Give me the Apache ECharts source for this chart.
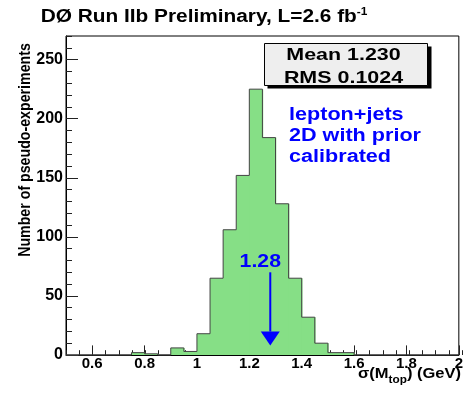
<!DOCTYPE html>
<html>
<head>
<meta charset="utf-8">
<script src="https://cdn.jsdelivr.net/npm/echarts@6/dist/echarts.min.js"></script>
<style>
  html, body { margin: 0; padding: 0; background: #fff; }
  #chart { width: 466px; height: 393px; }
</style>
</head>
<body>
<div id="chart"></div>
<script>
// histogram bins (lower edges), width 0.05
const binLow = [0.50, 0.55, 0.60, 0.65, 0.70, 0.75, 0.80, 0.85, 0.90, 0.95,
                1.00, 1.05, 1.10, 1.15, 1.20, 1.25, 1.30, 1.35, 1.40, 1.45,
                1.50, 1.55, 1.60, 1.65, 1.70, 1.75, 1.80, 1.85, 1.90, 1.95];
const binWidth = 0.05;
const counts = [0, 0, 0, 0, 0, 2, 1, 0, 6, 3,
                18, 65, 106, 152, 225, 184, 128, 65, 32, 10,
                2, 2, 0, 0, 0, 0, 0, 0, 0, 0];
const xMajorTicks = [0.6, 0.8, 1.0, 1.2, 1.4, 1.6, 1.8, 2.0];
const statsLines = ['Mean 1.230', 'RMS 0.1024'];
const noteLines = ['lepton+jets', '2D with prior', 'calibrated'];
const arrowValue = 1.28;
const arrowFrom = 70;
const arrowTo = 8;

const FONT = '"Liberation Sans", Arial, Helvetica, sans-serif';
const GREEN = '#86df86';
const BLUE = '#0000ff';

const histData = binLow.map((lo, i) => [lo, lo + binWidth, counts[i], i > 0 ? counts[i - 1] : 0]);

const chart = echarts.init(document.getElementById('chart'));

const sharedGrid = {left: 66, top: 36, right: 4, bottom: 38};

chart.setOption({
  animation: false,
  grid: [
    Object.assign({show: true, borderColor: '#000', borderWidth: 1, backgroundColor: 'transparent'}, sharedGrid),
    Object.assign({show: false}, sharedGrid)
  ],
  xAxis: [{
    type: 'value', gridIndex: 0, min: 0.5, max: 2.0, interval: 0.1,
    axisLine: {show: true, onZero: false, lineStyle: {color: '#000', width: 1}},
    axisTick: {show: true, inside: true, length: 9.6, customValues: xMajorTicks, lineStyle: {color: '#222', width: 1}},
    axisLabel: {
      customValues: xMajorTicks, margin: 1,
      fontFamily: FONT, fontWeight: 'bold', fontSize: 15, color: '#000',
      formatter: v => String(Math.round(v * 10) / 10)
    },
    splitLine: {show: false}
  }, {
    type: 'value', gridIndex: 1, min: 0.5, max: 2.0, interval: 0.05,
    axisLine: {show: false},
    axisTick: {show: true, inside: true, length: 4.8, lineStyle: {color: '#222', width: 1}},
    axisLabel: {show: false},
    splitLine: {show: false}
  }],
  yAxis: [{
    type: 'value', gridIndex: 0, min: 0, max: 270, interval: 50,
    axisLine: {show: true, onZero: false, lineStyle: {color: '#000', width: 1}},
    axisTick: {show: true, inside: true, length: 12, lineStyle: {color: '#222', width: 1}},
    axisLabel: {
      margin: 3, showMaxLabel: false,
      fontFamily: FONT, fontWeight: 'bold', fontSize: 16, color: '#000',
      formatter: v => (v % 50 === 0 ? String(v) : '')
    },
    splitLine: {show: false}
  }, {
    type: 'value', gridIndex: 1, min: 0, max: 270, interval: 10,
    axisLine: {show: false},
    axisTick: {show: true, inside: true, length: 6, lineStyle: {color: '#222', width: 1}},
    axisLabel: {show: false},
    splitLine: {show: false}
  }],
  series: [{
    type: 'custom',
    xAxisIndex: 0, yAxisIndex: 0,
    data: histData,
    renderItem: function (params, api) {
      const lo = api.value(0), hi = api.value(1), n = api.value(2), prev = api.value(3);
      const base = api.coord([lo, 0]);
      const top = api.coord([hi, n]);
      const prevPt = api.coord([lo, prev]);
      const children = [];
      if (n > 0) {
        children.push({
          type: 'rect',
          shape: {x: base[0], y: top[1], width: top[0] - base[0] + 0.8, height: base[1] - top[1]},
          style: {fill: GREEN}
        });
      }
      children.push({
        type: 'polyline', z2: 10,
        shape: {points: [prevPt, [base[0], top[1]], top]},
        style: {stroke: '#444', lineWidth: 1, fill: null}
      });
      return {type: 'group', children: children};
    }
  }, {
    type: 'custom',
    xAxisIndex: 0, yAxisIndex: 0,
    z: 5,
    data: [[arrowValue, arrowFrom, arrowTo]],
    renderItem: function (params, api) {
      const start = api.coord([api.value(0), api.value(1)]);
      const tip = api.coord([api.value(0), api.value(2)]);
      const headH = 14, headW = 9.5;
      return {
        type: 'group',
        children: [{
          type: 'line',
          shape: {x1: start[0], y1: start[1], x2: tip[0], y2: tip[1] - headH},
          style: {stroke: BLUE, lineWidth: 2}
        }, {
          type: 'polygon',
          shape: {points: [[tip[0] - headW, tip[1] - headH], [tip[0] + headW, tip[1] - headH], tip]},
          style: {fill: BLUE}
        }, {
          type: 'text',
          x: start[0] - 10, y: start[1] - 10, scaleX: 1.18,
          style: {
            text: String(api.value(0)), fill: BLUE,
            font: 'bold 18px ' + FONT, align: 'center', verticalAlign: 'middle'
          }
        }]
      };
    }
  }],
  graphic: [
    {
      type: 'text', x: 40.7, y: 17, scaleX: 1.19,
      style: {
        text: 'DØ Run IIb Preliminary, L=2.6 fb{sup|-1}',
        font: 'bold 17.5px ' + FONT, fill: '#000',
        align: 'left', verticalAlign: 'middle',
        rich: {sup: {font: 'bold 10px ' + FONT, verticalAlign: 'top', padding: [0, 0, 10, 0]}}
      }
    },
    {
      type: 'text', x: 25, y: 150, rotation: Math.PI / 2, scaleY: 1.15,
      style: {
        text: 'Number of pseudo-experiments',
        font: 'bold 14.2px ' + FONT, fill: '#000',
        align: 'center', verticalAlign: 'middle'
      }
    },
    {
      type: 'text', x: 358, y: 374, scaleX: 1.18,
      style: {
        text: 'σ(M{sub|top}) (GeV)',
        font: 'bold 14px ' + FONT, fill: '#000',
        align: 'left', verticalAlign: 'middle',
        rich: {sub: {font: 'bold 10px ' + FONT, padding: [12, 0, 0, 0]}}
      }
    },
    {
      type: 'rect', z: 10,
      shape: {x: 267.5, y: 46.5, width: 164, height: 42},
      style: {fill: '#000'}
    },
    {
      type: 'rect', z: 11,
      shape: {x: 264.5, y: 43.5, width: 163, height: 42},
      style: {fill: '#eeeeee', stroke: '#000', lineWidth: 1}
    },
    {
      type: 'text', z: 12, x: 343.5, y: 55, scaleX: 1.3,
      style: {text: statsLines[0], font: 'bold 16.5px ' + FONT, fill: '#000', align: 'center', verticalAlign: 'middle'}
    },
    {
      type: 'text', z: 12, x: 343.5, y: 78, scaleX: 1.3,
      style: {text: statsLines[1], font: 'bold 16.5px ' + FONT, fill: '#000', align: 'center', verticalAlign: 'middle'}
    }
  ].concat(noteLines.map((t, i) => ({
    type: 'text', z: 12, x: 289, y: 115 + i * 21, scaleX: 1.2,
    style: {text: t, font: 'bold 18px ' + FONT, fill: BLUE, align: 'left', verticalAlign: 'middle'}
  })))
});
</script>
</body>
</html>
